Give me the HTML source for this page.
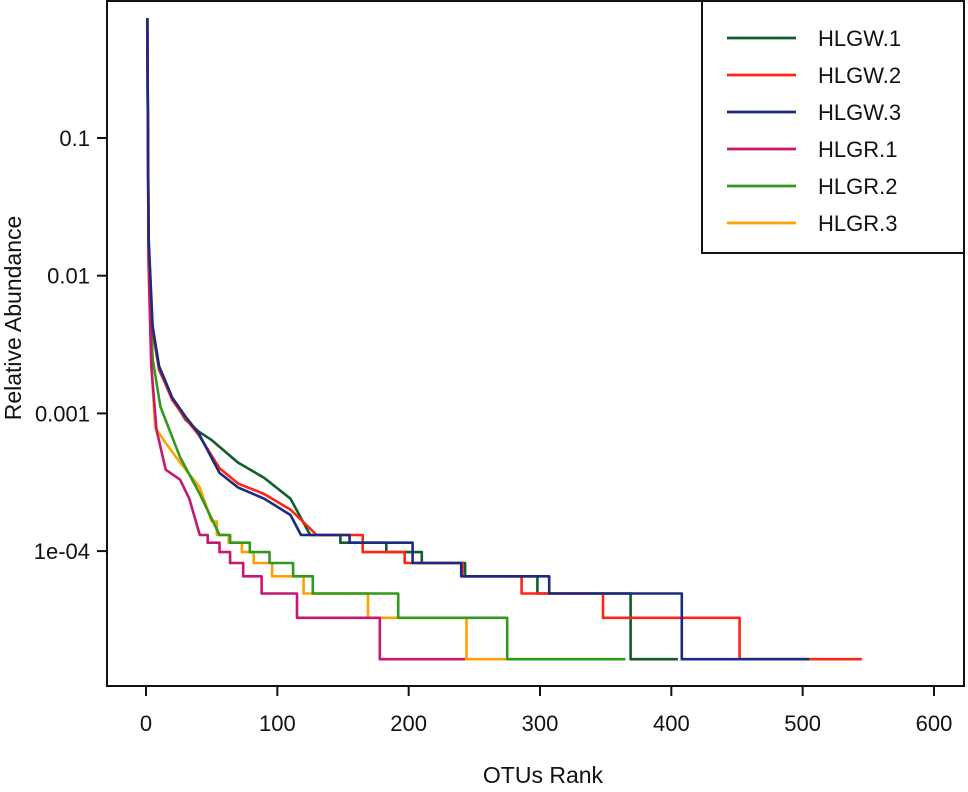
<!DOCTYPE html>
<html><head><meta charset="utf-8">
<style>
body{margin:0;background:#fff;}
svg text{font-family:"Liberation Sans",Arial,sans-serif;fill:#111;}
</style></head>
<body>
<svg id="chart" width="968" height="787" viewBox="0 0 968 787" xmlns="http://www.w3.org/2000/svg">
<rect x="0" y="0" width="968" height="787" fill="#fff"/>
<g id="marks"></g>
<g id="axes"></g>
</svg>
<script>
const xTicks = [0, 100, 200, 300, 400, 500, 600];
const yTicks = [0.1, 0.01, 0.001, 0.0001];
const yTickLabels = ["0.1", "0.01", "0.001", "1e-04"];
const seriesNames = ["HLGW.1", "HLGW.2", "HLGW.3", "HLGR.1", "HLGR.2", "HLGR.3"];
const seriesColors = ["#135c2c", "#ff2414", "#1c2a82", "#c81770", "#2f9a1c", "#ffa000"];

const hlgw1Ranks = [1, 2, 5, 10, 20, 30, 40, 50, 70, 90, 110, 125, 148, 183, 210, 243, 298, 369, 405];
const hlgw1Abund = [0.74, 0.017, 0.0040, 0.00207, 0.00129, 0.00090, 0.00074, 0.00064, 0.00044, 0.00034, 0.00024, 0.000131, 0.000115, 0.0000984, 0.000082, 0.0000656, 0.0000492, 0.0000164, 0.0000164];

const hlgw2Ranks = [1, 2, 5, 10, 20, 30, 40, 56, 70, 90, 110, 130, 165, 197, 241, 286, 348, 452, 545];
const hlgw2Abund = [0.74, 0.015, 0.0041, 0.0021, 0.00125, 0.00092, 0.00070, 0.00040, 0.00031, 0.00026, 0.00020, 0.000131, 0.0000984, 0.000082, 0.0000656, 0.0000492, 0.0000328, 0.0000164, 0.0000164];

const hlgw3Ranks = [1, 2, 5, 10, 20, 30, 40, 56, 70, 90, 110, 118, 155, 203, 240, 307, 408, 505];
const hlgw3Abund = [0.74, 0.019, 0.0043, 0.0022, 0.0013, 0.00095, 0.00072, 0.00037, 0.00029, 0.00024, 0.000183, 0.000131, 0.000115, 0.000082, 0.0000656, 0.0000492, 0.0000164, 0.0000164];

const hlgr1Ranks = [1, 2, 4, 8, 15, 26, 33, 41, 47, 56, 64, 74, 88, 115, 178, 243];
const hlgr1Abund = [0.74, 0.012, 0.0022, 0.00076, 0.00039, 0.00033, 0.00024, 0.000131, 0.000115, 0.0000984, 0.000082, 0.0000656, 0.0000492, 0.0000328, 0.0000164, 0.0000164];

const hlgr2Ranks = [1, 2, 5, 11, 26, 41, 56, 64, 79, 94, 112, 127, 192, 275, 365];
const hlgr2Abund = [0.74, 0.013, 0.0025, 0.00112, 0.00048, 0.00026, 0.000131, 0.000115, 0.0000984, 0.000082, 0.0000656, 0.0000492, 0.0000328, 0.0000164, 0.0000164];

const hlgr3Ranks = [1, 2, 4, 7, 15, 26, 41, 50, 54, 63, 73, 82, 96, 120, 169, 244, 355];
const hlgr3Abund = [0.74, 0.012, 0.0023, 0.00079, 0.00061, 0.00044, 0.00029, 0.000164, 0.000131, 0.000115, 0.0000984, 0.000082, 0.0000656, 0.0000492, 0.0000328, 0.0000164, 0.0000164];

const allRanks = [hlgw1Ranks, hlgw2Ranks, hlgw3Ranks, hlgr1Ranks, hlgr2Ranks, hlgr3Ranks];
const allAbund = [hlgw1Abund, hlgw2Abund, hlgw3Abund, hlgr1Abund, hlgr2Abund, hlgr3Abund];

const NS = "http://www.w3.org/2000/svg";
const X0 = 146, XS = (934 - 146) / 600;
const STEP_BELOW = 0.000175;
function xScale(r) { return X0 + r * XS; }
function yScale(a) { return 138 + 137.7 * (Math.log10(0.1) - Math.log10(a)); }
function mk(tag, attrs, parent) {
  const e = document.createElementNS(NS, tag);
  for (const k in attrs) e.setAttribute(k, attrs[k]);
  parent.appendChild(e);
  return e;
}
const marks = document.getElementById("marks");
const axes = document.getElementById("axes");

const order = [5, 4, 3, 0, 1, 2];
order.forEach(function (s) {
  const rs = allRanks[s], as = allAbund[s];
  let d = "M" + xScale(rs[0]).toFixed(1) + " " + yScale(as[0]).toFixed(1);
  for (let i = 1; i < rs.length; i++) {
    if (as[i - 1] > STEP_BELOW && i < rs.length - 1) {
      d += " L" + xScale(rs[i]).toFixed(1) + " " + yScale(as[i]).toFixed(1);
    } else {
      d += " H" + xScale(rs[i]).toFixed(1) + " V" + yScale(as[i]).toFixed(1);
    }
  }
  const p = mk("path", {d: d, fill: "none", stroke: seriesColors[s], "stroke-width": 2.6, "stroke-linejoin": "round"}, marks);
  
  
});

const frame = mk("rect", {x: 107, y: 1, width: 857, height: 685, fill: "none", stroke: "#111", "stroke-width": 2}, axes);



xTicks.forEach(function (t) {
  const x = xScale(t);
  const tk = mk("line", {x1: x, x2: x, y1: 686, y2: 696, stroke: "#111", "stroke-width": 2}, axes);
  
  
  const lb = mk("text", {x: x, y: 731, "text-anchor": "middle", "font-size": 22}, axes);
  lb.textContent = t;
  
  
});
yTicks.forEach(function (t, i) {
  const y = yScale(t);
  const tk = mk("line", {x1: 97, x2: 107, y1: y, y2: y, stroke: "#111", "stroke-width": 2}, axes);
  
  
  const lb = mk("text", {x: 90, y: y + 8, "text-anchor": "end", "font-size": 22}, axes);
  lb.textContent = yTickLabels[i];
  
  
});
const xt = mk("text", {x: 543, y: 783, "text-anchor": "middle", "font-size": 23}, axes);
xt.textContent = "OTUs Rank";


const yt = mk("text", {x: 0, y: 0, "text-anchor": "middle", "font-size": 23, transform: "translate(21,318) rotate(-90)"}, axes);
yt.textContent = "Relative Abundance";



const lg = mk("g", {}, axes);


const lbox = mk("rect", {x: 702, y: 1, width: 262, height: 252, fill: "#fff", stroke: "#111", "stroke-width": 2}, lg);


seriesNames.forEach(function (n, i) {
  const y = 38 + i * 37;
  const ln = mk("line", {x1: 727, x2: 796, y1: y, y2: y, stroke: seriesColors[i], "stroke-width": 2.8}, lg);
  
  
  const tx = mk("text", {x: 818, y: y + 8, "font-size": 22}, lg);
  tx.textContent = n;
  
  
});
</script>
</body></html>
